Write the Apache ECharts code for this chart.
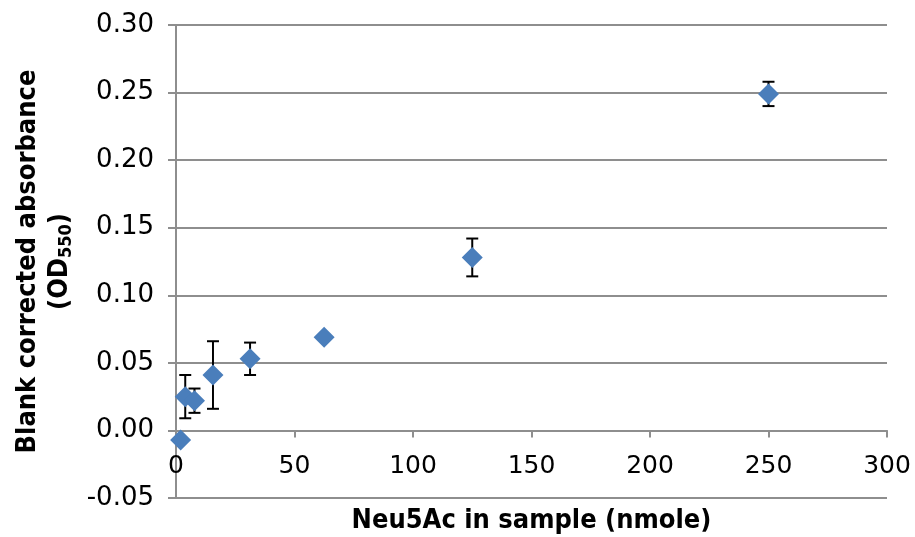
<!DOCTYPE html>
<html>
<head>
<meta charset="utf-8">
<script src="https://cdn.jsdelivr.net/npm/echarts@6/dist/echarts.min.js"></script>
<style>html,body{margin:0;padding:0;background:#fff;}#c{width:915px;height:537px;}</style>
</head>
<body>
<div id="c"></div>
<script>
const xValues = [1.95, 3.9, 7.8, 15.6, 31.25, 62.5, 125, 250];
const yValues = [-0.007, 0.025, 0.022, 0.041, 0.053, 0.069, 0.128, 0.249];
const yErrors = [0.002, 0.016, 0.009, 0.025, 0.012, 0.002, 0.014, 0.009];
const xTicks = [0, 50, 100, 150, 200, 250, 300];
const yTicks = [-0.05, 0, 0.05, 0.10, 0.15, 0.20, 0.25, 0.30];

const FONT = '"DejaVu Sans", sans-serif';
const TFONT = '"DejaVu Sans Condensed", "DejaVu Sans", sans-serif';
const GRID = '#8e8e8e';

const points = xValues.map((x, i) => [x, yValues[i]]);
const errData = xValues.map((x, i) => [x, yValues[i] - yErrors[i], yValues[i] + yErrors[i]]);

const xMin = xTicks[0], xMax = xTicks[xTicks.length - 1];

const chart = echarts.init(document.getElementById('c'), null, {renderer: 'canvas'});
chart.setOption({
  animation: false,
  backgroundColor: '#fff',
  grid: {left: 176, right: 28, top: 25, bottom: 39, containLabel: false, outerBoundsMode: 'none'},
  xAxis: [{
    type: 'value', min: xMin, max: xMax, interval: 50, position: 'bottom',
    axisLine: {show: false, onZero: false},
    axisTick: {show: false},
    splitLine: {show: false},
    axisLabel: {inside: true, fontFamily: FONT, fontSize: 25, color: '#000', margin: 19},
    name: 'Neu5Ac in sample (nmole)', nameLocation: 'middle', nameGap: 9,
    nameTextStyle: {fontFamily: TFONT, fontSize: 27, fontWeight: 'bold', color: '#000'}
  }, {
    type: 'value', min: xMin, max: xMax, interval: 50, position: 'bottom',
    axisLine: {show: true, onZero: true, lineStyle: {color: GRID, width: 2}},
    axisTick: {show: true, length: 7, lineStyle: {color: GRID, width: 2}},
    splitLine: {show: false},
    axisLabel: {show: false}
  }],
  yAxis: {
    type: 'value', min: yTicks[0], max: yTicks[yTicks.length - 1], interval: 0.05,
    axisLine: {show: true, onZero: false, lineStyle: {color: GRID, width: 2}},
    axisTick: {show: true, length: 8, lineStyle: {color: GRID, width: 2}},
    splitLine: {show: true, lineStyle: {color: GRID, width: 2}},
    axisLabel: {fontFamily: FONT, fontSize: 26, color: '#000', margin: 22,
      formatter: v => v.toFixed(2)},
    name: '{b|Blank corrected absorbance}\n{b|(OD}{s|550}{b|)}',
    nameLocation: 'middle', nameRotate: 90, nameGap: 100,
    nameTextStyle: {
      fontFamily: TFONT, fontSize: 27, fontWeight: 'bold', color: '#000', align: 'center',
      rich: {
        b: {fontFamily: TFONT, fontSize: 27, fontWeight: 'bold', color: '#000', lineHeight: 32},
        s: {fontFamily: TFONT, fontSize: 18, fontWeight: 'bold', color: '#000', lineHeight: 32, padding: [12, 0, 0, 0]}
      }
    }
  },
  series: [
    {
      type: 'custom',
      data: errData,
      z: 2,
      xAxisIndex: 0,
      renderItem: function (params, api) {
        const x = api.value(0);
        const lo = api.coord([x, api.value(1)]);
        const hi = api.coord([x, api.value(2)]);
        const w = 6;
        const st = {stroke: '#000', lineWidth: 2};
        return {
          type: 'group',
          children: [
            {type: 'line', shape: {x1: lo[0], y1: lo[1], x2: hi[0], y2: hi[1]}, style: st},
            {type: 'line', shape: {x1: lo[0] - w, y1: lo[1], x2: lo[0] + w, y2: lo[1]}, style: st},
            {type: 'line', shape: {x1: hi[0] - w, y1: hi[1], x2: hi[0] + w, y2: hi[1]}, style: st}
          ]
        };
      }
    },
    {
      type: 'scatter',
      data: points,
      xAxisIndex: 0,
      symbol: 'diamond',
      symbolSize: 21,
      z: 5,
      itemStyle: {color: '#4a7ebb', opacity: 1}
    }
  ]
});
</script>
</body>
</html>
